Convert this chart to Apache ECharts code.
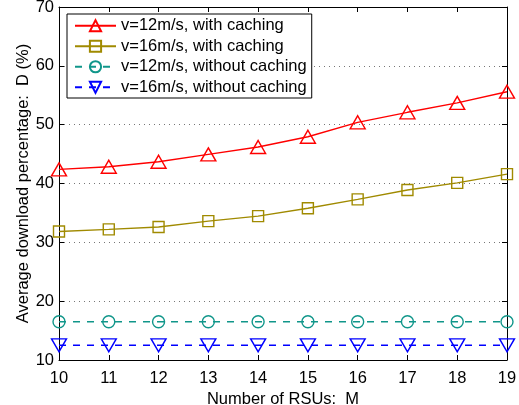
<!DOCTYPE html>
<html>
<head>
<meta charset="utf-8">
<script src="https://cdn.jsdelivr.net/npm/echarts@6/dist/echarts.min.js"></script>
<style>html,body{margin:0;padding:0;background:#fff}#c{width:519px;height:405px}</style>
</head>
<body>
<div id="c"></div>
<script>
const xValues = [10, 11, 12, 13, 14, 15, 16, 17, 18, 19];
const v12With = [42.4, 42.85, 43.7, 44.95, 46.2, 47.95, 50.4, 52.1, 53.7, 55.6];
const v16With = [31.85, 32.2, 32.6, 33.6, 34.45, 35.8, 37.3, 38.9, 40.1, 41.6];
const v12Without = [16.5, 16.5, 16.5, 16.5, 16.5, 16.5, 16.5, 16.5, 16.5, 16.5];
const v16Without = [12.5, 12.5, 12.5, 12.5, 12.5, 12.5, 12.5, 12.5, 12.5, 12.5];
const seriesNames = ['v=12m/s, with caching', 'v=16m/s, with caching', 'v=12m/s, without caching', 'v=16m/s, without caching'];
const xName = 'Number of RSUs:  M';
const yName = 'Average download percentage:  D (%)';

const FONT = 'Liberation Sans, Arial, Helvetica, sans-serif';
const FS = 16.5;
const pair = arr => xValues.map((x, i) => [x, arr[i]]);

function mk(name, data, color, symbol, size, rotate, dashed) {
  return {
    name: name, type: 'line', data: pair(data),
    symbol: symbol, symbolSize: size, symbolRotate: rotate,
    showAllSymbol: true,
    lineStyle: { color: color, width: 1.4, type: dashed ? [7, 7] : 'solid' },
    itemStyle: { color: 'rgba(0,0,0,0)', borderColor: color, borderWidth: 1.4 },
    emphasis: { disabled: true },
    animation: false, z: 3
  };
}

const chart = echarts.init(document.getElementById('c'), null, { renderer: 'canvas' });
const axisCommon = {
  type: 'value',
  axisLine: { show: true, lineStyle: { color: '#000', width: 1 } },
  axisTick: { show: true, inside: true, length: 5, lineStyle: { color: '#000' } },
};
chart.setOption({
  animation: false,
  backgroundColor: '#fff',
  grid: { left: 59, right: 12, top: 7, bottom: 45, containLabel: false, outerBoundsMode: 'none' },
  xAxis: [
    Object.assign({}, axisCommon, {
      min: 10, max: 19, interval: 1, position: 'bottom',
      name: xName, nameLocation: 'middle', nameGap: 31, nameMoveOverlap: false,
      nameTextStyle: { fontFamily: FONT, fontSize: FS, color: '#000' },
      axisLabel: { fontFamily: FONT, fontSize: FS, color: '#000', margin: 10 },
      splitLine: { show: false }
    }),
    Object.assign({}, axisCommon, {
      min: 10, max: 19, interval: 1, position: 'top',
      axisLabel: { show: false }, splitLine: { show: false }
    })
  ],
  yAxis: [
    Object.assign({}, axisCommon, {
      min: 10, max: 70, interval: 10, position: 'left',
      name: yName, nameLocation: 'middle', nameGap: 27, nameMoveOverlap: false,
      nameTextStyle: { fontFamily: FONT, fontSize: FS, color: '#000' },
      axisLabel: { fontFamily: FONT, fontSize: FS, color: '#000', margin: 5 },
      splitLine: { show: true, lineStyle: { color: '#777', type: [1, 4], width: 1 } }
    }),
    Object.assign({}, axisCommon, {
      min: 10, max: 70, interval: 10, position: 'right',
      axisLabel: { show: false }, splitLine: { show: false }
    })
  ],
  legend: {
    orient: 'vertical', left: 67, top: 14,
    backgroundColor: '#fff', borderColor: '#000', borderWidth: 1,
    padding: [2, 5, 1, 7],
    itemWidth: 41, itemHeight: 14, itemGap: 1,
    textStyle: { fontFamily: FONT, fontSize: FS, color: '#000', lineHeight: 19.5 },
    data: seriesNames, z: 10
  },
  series: [
    mk(seriesNames[0], v12With, '#ff0000', 'triangle', [15, 13], 0, false),
    mk(seriesNames[1], v16With, '#a08a00', 'rect', 11, 0, false),
    mk(seriesNames[2], v12Without, '#10968a', 'circle', 12, 0, true),
    mk(seriesNames[3], v16Without, '#0000ff', 'triangle', [15, 13], 180, true)
  ]
});
</script>
</body>
</html>
